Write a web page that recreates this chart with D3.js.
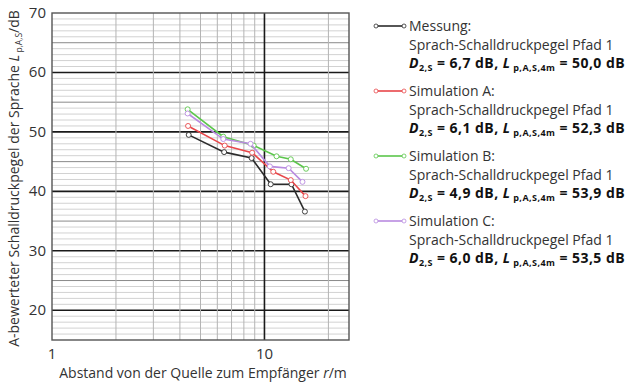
<!DOCTYPE html>
<html>
<head>
<meta charset="utf-8">
<script src="https://cdn.jsdelivr.net/npm/d3@7"></script>
<style>
  body { margin: 0; background: #fff; }
  svg { font-family: "Open Sans", "Noto Sans", sans-serif; }
</style>
</head>
<body>
<div id="chart"></div>
<script>
// distances r/m per series and levels L p,A,S / dB
let rMessung = [4.4, 6.46, 8.7, 10.7, 13.4, 15.5]
let lMessung = [49.5, 46.6, 45.6, 41.2, 41.2, 36.6]
let rSimA = [4.37, 6.5, 8.75, 11.0, 13.3, 15.6]
let lSimA = [51.0, 47.7, 46.5, 43.3, 41.9, 39.2]
let rSimB = [4.35, 6.4, 8.9, 11.4, 13.3, 15.7]
let lSimB = [53.8, 49.2, 47.7, 45.9, 45.4, 43.8]
let rSimC = [4.35, 6.4, 8.6, 10.6, 13.0, 15.1]
let lSimC = [53.1, 48.8, 48.0, 44.2, 43.9, 41.6]

let seriesNames = ['Messung:', 'Simulation A:', 'Simulation B:', 'Simulation C:']
let seriesColors = ['#2b2b2b', '#e8474a', '#5cc64c', '#b98be0']
let dValues = ['6,7', '6,1', '4,9', '6,0']
let lValues = ['50,0', '52,3', '53,9', '53,5']
let yTicks = [20, 30, 40, 50, 60, 70]
let xTicks = [1, 10]

let series = [
  {r: rMessung, l: lMessung},
  {r: rSimA, l: lSimA},
  {r: rSimB, l: lSimB},
  {r: rSimC, l: lSimC}
]

let width = 630, height = 383
let margin = {left: 52, right: 281, top: 13, bottom: 43}

let svg = d3.select('#chart').append('svg')
  .attr('width', width)
  .attr('height', height)

let x = d3.scaleLog().domain([1, 25]).range([margin.left, width - margin.right])
let y = d3.scaleLinear().domain([15, 70]).range([height - margin.bottom, margin.top])

let grid = svg.append('g')

// horizontal grid: 1 dB light, 5 dB medium, 10 dB black
let hLines = d3.range(16, 70)
grid.selectAll('.hgrid')
  .data(hLines)
  .enter()
  .append('line')
  .attr('x1', x.range()[0])
  .attr('x2', x.range()[1])
  .attr('y1', d => y(d))
  .attr('y2', d => y(d))
  .attr('stroke', d => d % 10 === 0 ? '#1a1a1a' : (d % 5 === 0 ? '#8a8a8a' : '#d2d2d2'))
  .attr('stroke-width', d => d % 10 === 0 ? 1.6 : 1)

// vertical grid lines 2..9, 10, 20
let vLines = [2, 3, 4, 5, 6, 7, 8, 9, 10, 20]
grid.selectAll('.vgrid')
  .data(vLines)
  .enter()
  .append('line')
  .attr('x1', d => x(d))
  .attr('x2', d => x(d))
  .attr('y1', y.range()[0])
  .attr('y2', y.range()[1])
  .attr('stroke', d => d === 10 ? '#1a1a1a' : '#b4b4b4')
  .attr('stroke-width', d => d === 10 ? 1.6 : 1)

// frame
svg.append('rect')
  .attr('x', x.range()[0])
  .attr('y', y.range()[1])
  .attr('width', x.range()[1] - x.range()[0])
  .attr('height', y.range()[0] - y.range()[1])
  .attr('fill', 'none')
  .attr('stroke', '#555')
  .attr('stroke-width', 1.4)

// tick labels
svg.selectAll('.ytick')
  .data(yTicks)
  .enter()
  .append('text')
  .attr('x', x.range()[0] - 6)
  .attr('y', d => y(d) + 5)
  .attr('text-anchor', 'end')
  .attr('font-size', 15)
  .attr('fill', '#333')
  .text(d => d)

svg.selectAll('.xtick')
  .data(xTicks)
  .enter()
  .append('text')
  .attr('x', d => x(d))
  .attr('y', y.range()[0] + 19)
  .attr('text-anchor', 'middle')
  .attr('font-size', 15)
  .attr('fill', '#333')
  .text(d => d)

// axis titles
let xTitle = svg.append('text')
  .attr('x', 203)
  .attr('y', 378)
  .attr('text-anchor', 'middle')
  .attr('font-size', 14)
  .attr('fill', '#333')
xTitle.append('tspan').text('Abstand von der Quelle zum Empfänger ')
xTitle.append('tspan').attr('font-style', 'italic').text('r')
xTitle.append('tspan').text('/m')

let yTitle = svg.append('text')
  .attr('transform', 'translate(19,' + ((y.range()[0] + y.range()[1]) / 2 + 2) + ') rotate(-90)')
  .attr('text-anchor', 'middle')
  .attr('font-size', 14)
  .attr('fill', '#333')
yTitle.append('tspan').text('A-bewerteter Schalldruckpegel der Sprache ')
yTitle.append('tspan').attr('font-style', 'italic').text('L')
yTitle.append('tspan').attr('font-size', 8.5).attr('dy', 3).text(' p,A,S')
yTitle.append('tspan').attr('dy', -3).text('/dB')

// series lines + markers
let line = d3.line()
  .x(d => x(d[0]))
  .y(d => y(d[1]))

series.forEach((s, i) => {
  let pts = s.r.map((r, j) => [r, s.l[j]])
  svg.append('path')
    .datum(pts)
    .attr('d', line)
    .attr('fill', 'none')
    .attr('stroke', seriesColors[i])
    .attr('stroke-width', 1.6)
  svg.selectAll('.m' + i)
    .data(pts)
    .enter()
    .append('circle')
    .attr('cx', d => x(d[0]))
    .attr('cy', d => y(d[1]))
    .attr('r', 2.5)
    .attr('fill', '#fff')
    .attr('stroke', seriesColors[i])
    .attr('stroke-width', 0.9)
})

// legend
let legX = 376, legTextX = 409, legY0 = 26, groupStep = 65, lineStep = 18.5
seriesNames.forEach((name, i) => {
  let gy = legY0 + i * groupStep
  let g = svg.append('g')
  g.append('line')
    .attr('x1', legX).attr('x2', legX + 28)
    .attr('y1', gy).attr('y2', gy)
    .attr('stroke', seriesColors[i])
    .attr('stroke-width', 1.6)
  ;[legX, legX + 28].forEach(cx => {
    g.append('circle')
      .attr('cx', cx).attr('cy', gy).attr('r', 2)
      .attr('fill', '#fff')
      .attr('stroke', seriesColors[i])
      .attr('stroke-width', 0.8)
  })
  g.append('text')
    .attr('x', legTextX).attr('y', gy + 5)
    .attr('font-size', 14).attr('fill', '#333')
    .text(name)
  g.append('text')
    .attr('x', legTextX).attr('y', gy + 5 + lineStep)
    .attr('font-size', 14).attr('fill', '#333')
    .text('Sprach-Schalldruckpegel Pfad 1')
  let t = g.append('text')
    .attr('x', legTextX).attr('y', gy + 5 + 2 * lineStep)
    .attr('font-size', 14).attr('font-weight', 'bold').attr('fill', '#111')
    .attr('letter-spacing', 0.45)
  t.append('tspan').attr('font-style', 'italic').text('D')
  t.append('tspan').attr('font-size', 9).attr('dy', 3).text('2,S')
  t.append('tspan').attr('dy', -3).text('  =  ' + dValues[i] + ' dB,  ')
  t.append('tspan').attr('font-style', 'italic').text('L')
  t.append('tspan').attr('font-size', 9).attr('dy', 3).text(' p,A,S,4m')
  t.append('tspan').attr('dy', -3).text('  =  ' + lValues[i] + ' dB')
})
</script>
</body>
</html>
